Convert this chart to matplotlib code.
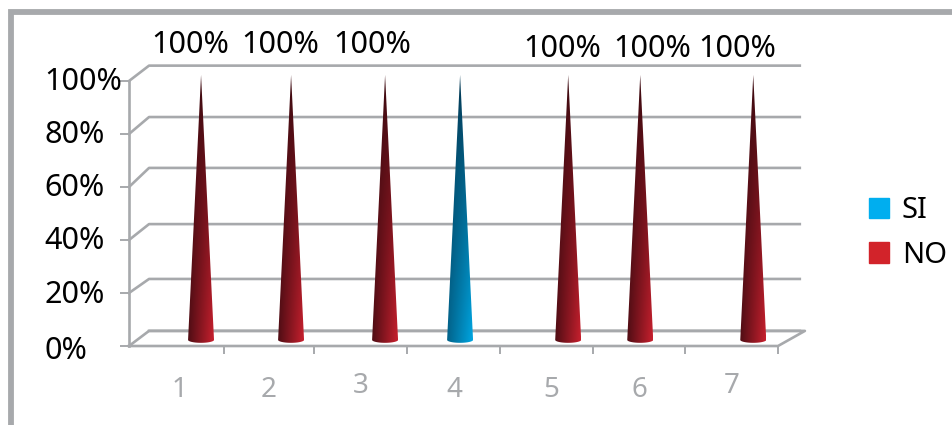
import matplotlib
matplotlib.use('Agg')
import matplotlib.pyplot as plt
import numpy as np
from matplotlib.colors import to_rgb
from matplotlib.lines import Line2D
from matplotlib.patches import Patch, Polygon

categories = ['1', '2', '3', '4', '5', '6', '7']
si_values = [0, 0, 0, 100, 0, 0, 0]
no_values = [100, 100, 100, 0, 100, 100, 100]
y_ticks = [0, 20, 40, 60, 80, 100]
y_labels = ['0%', '20%', '40%', '60%', '80%', '100%']

# the picture is a stretched 3d chart, so cones and labels are not evenly spaced
x_ticks = [1.03, 2, 3, 4, 5, 6, 7]
cone_x = [0.777, 1.748, 2.762, 3.571, 4.737, 5.514, 6.733]
label_x = [0.66, 1.63, 2.62, 4.67, 5.64, 6.56]
label_y = [113.6, 113.6, 113.6, 112, 112, 112]
cat_x = [0.54, 1.51, 2.50, 3.51, 4.55, 5.51, 6.50]
cat_y = [-16.5, -16.5, -15, -16.5, -16.5, -16.5, -15]
back_y = [5.7, 25.3, 46, 67.2, 86.4, 105.8]
tick_text_y = [-0.4, 20.4, 41.1, 61.1, 81.1, 101.1]

GREY = '#a7a9ac'
W, H = 953, 425
L, R, B, T = 129, 778, 346, 81
DEPTH_X = 0.216
CONE_W = 0.28

fig = plt.figure(figsize=(W / 100, H / 100), dpi=100)
plt.rcParams['font.family'] = ['Noto Sans', 'DejaVu Sans']

# outer frame
fig.add_artist(Line2D([11 / W, 11 / W, 1], [0, 1 - 11.5 / H, 1 - 11.5 / H], color=GREY, lw=4.2,
                      solid_joinstyle='miter'))

ax = fig.add_axes([L / W, 1 - B / H, (R - L) / W, (B - T) / H])
ax.patch.set_alpha(0)
for s in ax.spines.values():
    s.set_visible(False)
ax.set_xlim(0, 7)
ax.set_ylim(0, 100)

# walls and floor
for lev, back in zip(y_ticks, back_y):
    ax.plot([0, DEPTH_X, 7.235], [lev, back, back], color=GREY, lw=1.9, clip_on=False, zorder=1)
ax.plot([0, 0], [0, 100], color=GREY, lw=1.9, zorder=1, clip_on=False)
ax.plot([0, 7, 7.29, 0.216], [0, 0, back_y[0], back_y[0]], color=GREY, lw=1.9, zorder=1, clip_on=False)

ax.set_xticks(x_ticks)
ax.set_xticklabels([])
ax.tick_params(axis='x', length=6, width=1.4, color=GREY)
ax.set_yticks(y_ticks)
ax.set_yticklabels([])
ax.tick_params(axis='y', length=6.5, width=1.4, color=GREY)

for y, name in zip(tick_text_y, y_labels):
    ax.text(-0.915, y, name, fontsize=22, color='black', ha='left', va='center_baseline', clip_on=False)
for x, y, name in zip(cat_x, cat_y, categories):
    ax.text(x, y, name, fontsize=20, color=GREY, ha='center', va='center', clip_on=False)


def draw_cone(x, value, dark, light, floor):
    base = 2.3
    u = np.linspace(0, 1, 64)[None, :]
    h = np.linspace(1, 0, 256)[:, None]
    f = (floor + (1 - floor) * u) * (1 - h) ** 0.8
    img = np.stack([d + (l - d) * f for d, l in zip(to_rgb(dark), to_rgb(light))], axis=2)
    t = np.linspace(0, np.pi, 30)
    arc_x = x + CONE_W / 2 * np.cos(t + np.pi)
    arc_y = base - 1.1 * np.sin(t)
    pts = list(zip(arc_x, arc_y)) + [(x, base + value)]
    im = ax.imshow(img, aspect='auto', zorder=3,
                   extent=[x - CONE_W / 2, x + CONE_W / 2, base - 1.1, base + value])
    im.set_clip_path(Polygon(pts, closed=True, transform=ax.transData))
    im.set_clip_box(fig.bbox)


for x, si, no in zip(cone_x, si_values, no_values):
    if no > 0:
        draw_cone(x, no, '#3a0a10', '#c8202e', 0.15)
    if si > 0:
        draw_cone(x, si, '#043650', '#00a6e2', 0.4)
ax.set_xlim(0, 7)
ax.set_ylim(0, 100)

# only the NO series carries data labels
no_labelled = [v for v in no_values if v > 0]
for x, y, v in zip(label_x, label_y, no_labelled):
    ax.text(x, y, f'{v}%', fontsize=22, color='black', ha='center', va='center', clip_on=False)

handles = [Patch(color='#00aeef', label='SI'), Patch(color='#d2232a', label='NO')]
fig.legend(handles=handles, loc='center left', bbox_to_anchor=(869 / W, 1 - 233 / H), frameon=False,
           fontsize=21, handlelength=0.686, handleheight=0.686, handletextpad=0.44, labelspacing=0.53,
           borderpad=0, borderaxespad=0)

fig.savefig('out.png', dpi=100)
